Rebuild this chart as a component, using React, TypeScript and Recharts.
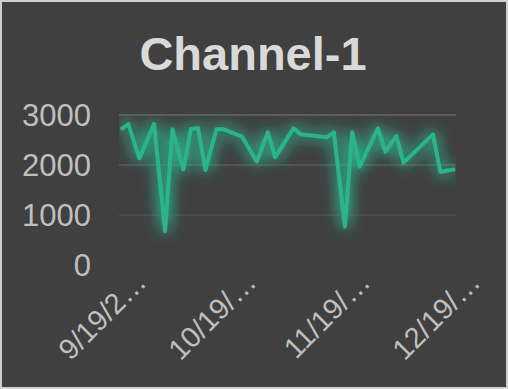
import * as React from "react"
import { LineChart, Line, XAxis, YAxis, ReferenceLine } from "recharts"

const dates = [
    "9/19/2019", "9/21/2019", "9/24/2019", "9/28/2019", "10/1/2019",
    "10/3/2019", "10/6/2019", "10/8/2019", "10/10/2019", "10/12/2019",
    "10/15/2019", "10/17/2019", "10/22/2019", "10/26/2019", "10/29/2019",
    "10/31/2019", "11/5/2019", "11/7/2019", "11/14/2019", "11/16/2019",
    "11/19/2019", "11/21/2019", "11/23/2019", "11/28/2019", "11/30/2019",
    "12/3/2019", "12/5/2019", "12/13/2019", "12/15/2019", "12/19/2019",
]
const values = [
    2714, 2820, 2133, 2820, 680, 2714, 1913, 2714, 2740, 1900,
    2714, 2714, 2567, 2067, 2653, 2153, 2733, 2613, 2553, 2653,
    767, 2653, 1967, 2733, 2267, 2580, 2047, 2613, 1867, 1913,
]
const tickDates = ["9/19/2019", "10/19/2019", "11/19/2019", "12/19/2019"]
const yTicks = [0, 1000, 2000, 3000]
const gridLines = [
    { value: 3000, color: "#5c5c5c" },
    { value: 2000, color: "#545454" },
    { value: 1000, color: "#4b4b4b" },
]

const FONT = "'Liberation Sans', Arial, sans-serif"

const toTime = (s: string) => {
    const [m, d, y] = s.split("/").map(Number)
    return Date.UTC(y, m - 1, d)
}

const formatDate = (t: number) => {
    const dt = new Date(t)
    const full = `${dt.getUTCMonth() + 1}/${dt.getUTCDate()}/${dt.getUTCFullYear()}`
    return full.length > 6 ? full.slice(0, 6) + "…" : full
}

const data = dates.map((d, i) => ({ time: toTime(d), value: values[i] }))

function DateTick({ x, y, payload }: any) {
    return (
        <text
            transform={`translate(${x + 27}, ${y + 19}) rotate(-45)`}
            textAnchor="end"
            fill="#bfbfbf"
            fontSize={29}
            fontFamily={FONT}
        >
            {formatDate(payload.value)}
        </text>
    )
}

export default function App() {
    return (
        <div
            style={{
                position: "absolute",
                left: 0,
                top: 0,
                width: 508,
                height: 389,
                background: "#404040",
                boxShadow: "inset 0 0 0 2px #cfcfcf",
            }}
        >
            <svg width={0} height={0} style={{ position: "absolute" }}>
                <defs>
                    <filter
                        id="glow"
                        filterUnits="userSpaceOnUse"
                        x={119}
                        y={115}
                        width={337}
                        height={150}
                    >
                        <feGaussianBlur in="SourceGraphic" stdDeviation={8} result="blur" />
                        <feComponentTransfer in="blur" result="soft">
                            <feFuncA type="linear" slope={1.8} />
                        </feComponentTransfer>
                        <feMerge>
                            <feMergeNode in="soft" />
                            <feMergeNode in="SourceGraphic" />
                        </feMerge>
                    </filter>
                </defs>
            </svg>
            <svg width={508} height={100} style={{ position: "absolute", left: 0, top: 0 }}>
                <text
                    x={253}
                    y={70}
                    textAnchor="middle"
                    fill="#d9d9d9"
                    fontSize={47}
                    fontWeight="bold"
                    fontFamily={FONT}
                >
                    Channel-1
                </text>
            </svg>
            <div style={{ position: "absolute", left: 0, top: 0 }}>
                <LineChart
                    width={508}
                    height={389}
                    data={data}
                    margin={{ top: 115, right: 52, left: 0, bottom: 0 }}
                >
                    {gridLines.map((g) => (
                        <ReferenceLine key={g.value} y={g.value} stroke={g.color} strokeWidth={2} />
                    ))}
                    <XAxis
                        dataKey="time"
                        type="number"
                        scale="time"
                        domain={[toTime(dates[0]), toTime(dates[dates.length - 1])]}
                        ticks={tickDates.map(toTime)}
                        tick={<DateTick />}
                        tickLine={false}
                        axisLine={false}
                        tickSize={0}
                        tickMargin={0}
                        height={124}
                        padding={{ left: 2, right: 1 }}
                        interval={0}
                    />
                    <YAxis
                        width={119}
                        domain={[0, 3000]}
                        ticks={yTicks}
                        tickLine={false}
                        axisLine={false}
                        tickSize={0}
                        tickMargin={28}
                        tick={{ fill: "#bfbfbf", fontSize: 31, fontFamily: FONT }}
                    />
                    <Line
                        type="linear"
                        dataKey="value"
                        stroke="#2bb48c"
                        strokeWidth={4}
                        strokeLinejoin="round"
                        dot={false}
                        filter="url(#glow)"
                        isAnimationActive={false}
                    />
                </LineChart>
            </div>
        </div>
    )
}
